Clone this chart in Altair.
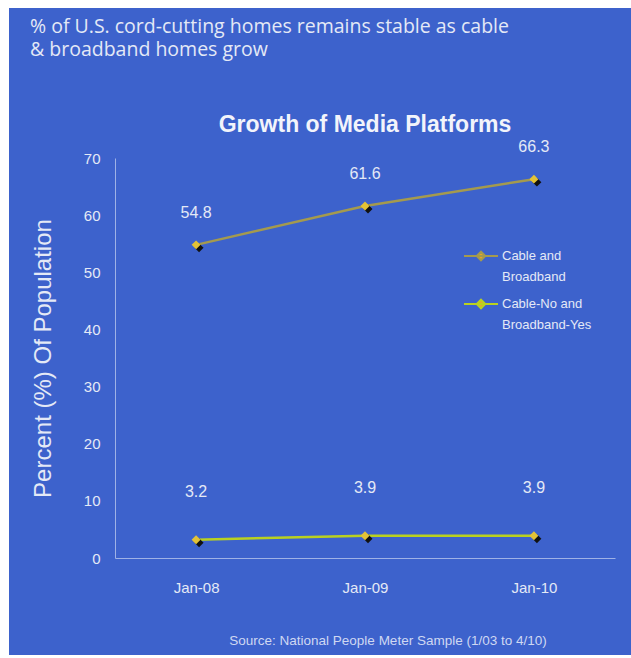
import altair as alt
import pandas as pd

# ---- data ----
months = ["Jan-08", "Jan-09", "Jan-10"]
series_names = ["Cable and Broadband", "Cable-No and Broadband-Yes"]
cable_and_broadband = [54.8, 61.6, 66.3]
cable_no_broadband_yes = [3.2, 3.9, 3.9]
y_ticks = [0, 10, 20, 30, 40, 50, 60, 70]

header_lines = ["% of U.S. cord-cutting homes remains stable as cable",
                "& broadband homes grow"]
chart_title = "Growth of Media Platforms"
y_title = "Percent (%) Of Population"
source_text = "Source: National People Meter Sample (1/03 to 4/10)"

rows = []
for m, v in zip(months, cable_and_broadband):
    rows.append({"month": m, "series": series_names[0], "value": v})
for m, v in zip(months, cable_no_broadband_yes):
    rows.append({"month": m, "series": series_names[1], "value": v})
df = pd.DataFrame(rows)

BLUE = "#3d62cc"
TXT = "#e4e9f6"
FONT = "Liberation Sans"
line_colors = ["#a49a4e", "#b9d11f"]

W, H = 500, 400
PAD = {"left": 115, "top": 158, "right": 16, "bottom": 100}

x_enc = alt.X("month:N", sort=months,
              scale=alt.Scale(type="point", padding=0.48),
              axis=alt.Axis(title=None, labelFontSize=15, labelColor=TXT, labelFont=FONT,
                            labelPadding=22, ticks=False, domainColor="#9fb2e6",
                            domainWidth=1, grid=False, labelAngle=0, zindex=1))
y_enc = alt.Y("value:Q", scale=alt.Scale(domain=[0, 70], nice=False),
              axis=alt.Axis(title=y_title, values=y_ticks, labelFontSize=15, labelColor=TXT,
                            labelFont=FONT, labelPadding=15, ticks=False,
                            domainColor="#9fb2e6", domainWidth=1, grid=False,
                            titleFontSize=24, titleFontWeight="normal", titleColor=TXT,
                            titleFont=FONT, titlePadding=28, zindex=1))

base = alt.Chart(df)
one = pd.DataFrame({"k": [0]})

# decorative blue panel (white frame around it like the scanned slide)
panel = alt.Chart(one).mark_rect(color=BLUE).encode(
    x=alt.value(-106), x2=alt.value(516), y=alt.value(-150), y2=alt.value(497))

legend_path = "M-1,0L1,0M0,-0.25L0.25,0L0,0.25L-0.25,0Z"

lines = base.mark_line(strokeWidth=2.5).encode(
    x=x_enc, y=y_enc,
    color=alt.Color("series:N", sort=series_names,
                    scale=alt.Scale(domain=series_names, range=line_colors),
                    legend=alt.Legend(
                        title=None, orient="none", legendX=348, legendY=80,
                        symbolType=legend_path, symbolSize=1156, symbolStrokeWidth=2,
                        symbolFillColor="#e8a62a",
                        labelFont=FONT, labelFontSize=13, labelColor=TXT,
                        labelLimit=200, labelOffset=3, rowPadding=2, zindex=1,
                        labelExpr="[slice(datum.label, 0, indexof(datum.label, ' and ') + 4), "
                                  "slice(datum.label, indexof(datum.label, ' and ') + 5)]")))

shadow = base.mark_point(shape="diamond", filled=True, size=80, color="#111111",
                         opacity=1, xOffset=3, yOffset=3).encode(x=x_enc, y=y_enc)
marker = base.mark_point(shape="diamond", filled=True, size=80, color="#e3c236",
                         opacity=1).encode(x=x_enc, y=y_enc)

labels_top = base.transform_filter(alt.datum.series == series_names[0]).mark_text(
    font=FONT, fontSize=16, color=TXT, dy=-32).encode(
    x=x_enc, y=y_enc, text=alt.Text("value:Q", format=".1f"))
labels_bottom = base.transform_filter(alt.datum.series == series_names[1]).mark_text(
    font=FONT, fontSize=16, color=TXT, dy=-48).encode(
    x=x_enc, y=y_enc, text=alt.Text("value:Q", format=".1f"))

header = alt.Chart(one).mark_text(
    font="Open Sans", fontSize=19.5, color=TXT, align="left", baseline="middle",
    lineHeight=23).encode(x=alt.value(-85), y=alt.value(-131),
                          text=alt.value(header_lines))

title = alt.Chart(one).mark_text(
    font=FONT, fontSize=23, fontWeight="bold", color="#f2f4fb", align="center",
    baseline="middle").encode(x=alt.value(W / 2), y=alt.value(-33),
                              text=alt.value(chart_title))

source = alt.Chart(one).mark_text(
    font=FONT, fontSize=13.5, color="#cfd8f2", align="center", baseline="middle").encode(
    x=alt.value(273), y=alt.value(483), text=alt.value(source_text))

chart = alt.layer(panel, header, title, source, lines, shadow, marker,
                  labels_top, labels_bottom).properties(
    width=W, height=H,
    autosize=alt.AutoSizeParams(type="none"),
    padding=PAD,
    background="white",
).configure(style={"guide-label": {"lineHeight": 21}}).configure_view(stroke=None)

chart.save("out.html", embed_options={"renderer": "svg", "actions": False})
